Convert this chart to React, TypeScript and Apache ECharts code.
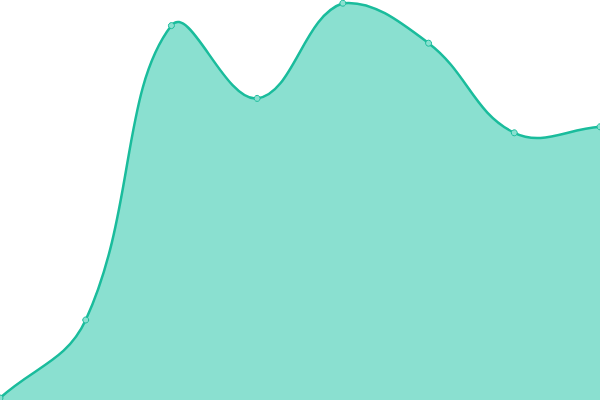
import { useEffect, useRef } from 'react'
import * as echarts from 'echarts'

const categories = ['1', '2', '3', '4', '5', '6', '7', '8']
const values = [0.5, 20, 93.6, 75.4, 99.2, 89.2, 66.8, 68.3]

const LINE = '#1abc9c'
const FILL = '#8ae0d0'
const TENSION = 0.4

// spline with pixel-distance weighting, control points kept inside the plot area
function buildPath(pts: number[][], area: { x: number; y: number; width: number; height: number }, baseY: number) {
  const n = pts.length
  const cpIn: number[][] = []
  const cpOut: number[][] = []
  const clamp = (p: number[]) => [
    Math.min(Math.max(p[0], area.x), area.x + area.width),
    Math.min(Math.max(p[1], area.y), area.y + area.height),
  ]
  for (let i = 0; i < n; i++) {
    const prev = pts[i - 1] || pts[i]
    const cur = pts[i]
    const next = pts[i + 1] || pts[i]
    const d01 = Math.hypot(cur[0] - prev[0], cur[1] - prev[1])
    const d12 = Math.hypot(next[0] - cur[0], next[1] - cur[1])
    let fa = d01 / (d01 + d12)
    let fb = d12 / (d01 + d12)
    if (isNaN(fa)) fa = 0
    if (isNaN(fb)) fb = 0
    fa *= TENSION
    fb *= TENSION
    cpIn.push(clamp([cur[0] - fa * (next[0] - prev[0]), cur[1] - fa * (next[1] - prev[1])]))
    cpOut.push(clamp([cur[0] + fb * (next[0] - prev[0]), cur[1] + fb * (next[1] - prev[1])]))
  }
  let d = `M${pts[0][0]},${pts[0][1]}`
  for (let i = 1; i < n; i++) {
    d += ` C${cpOut[i - 1][0]},${cpOut[i - 1][1]} ${cpIn[i][0]},${cpIn[i][1]} ${pts[i][0]},${pts[i][1]}`
  }
  const area2 = `${d} L${pts[n - 1][0]},${baseY} L${pts[0][0]},${baseY} Z`
  return { line: d, area: area2 }
}

export default function App() {
  const chartRef = useRef<HTMLDivElement>(null)

  useEffect(() => {
    document.body.style.margin = '0'
    if (!chartRef.current) return
    const chart = echarts.init(chartRef.current, null, { renderer: 'svg' })

    chart.setOption({
      animation: false,
      grid: { left: 0, right: 0, top: 0, bottom: 0 },
      xAxis: {
        type: 'category',
        boundaryGap: false,
        data: categories,
        show: false,
      },
      yAxis: {
        type: 'value',
        min: 0,
        max: 100,
        show: false,
      },
      series: [
        {
          type: 'custom',
          data: values.map((v, i) => [i, v]),
          clip: false,
          renderItem: (params: any, api: any) => {
            if (params.dataIndex !== 0) return null
            const pts = values.map((v, i) => api.coord([i, v]))
            const baseY = api.coord([0, 0])[1]
            const { line, area } = buildPath(pts, params.coordSys, baseY)
            return {
              type: 'group',
              children: [
                { type: 'path', shape: { pathData: area }, style: { fill: FILL, stroke: 'none' } },
                { type: 'path', shape: { pathData: line }, style: { fill: 'none', stroke: LINE, lineWidth: 2.5 } },
              ],
            }
          },
        },
        {
          type: 'line',
          data: values,
          z: 5,
          symbol: 'circle',
          symbolSize: 6,
          itemStyle: { color: FILL, borderColor: LINE, borderWidth: 1 },
          lineStyle: { opacity: 0 },
        },
      ],
    })

    return () => {
      chart.dispose()
    }
  }, [])

  return <div ref={chartRef} style={{ width: '600px', height: '400px' }} />
}
